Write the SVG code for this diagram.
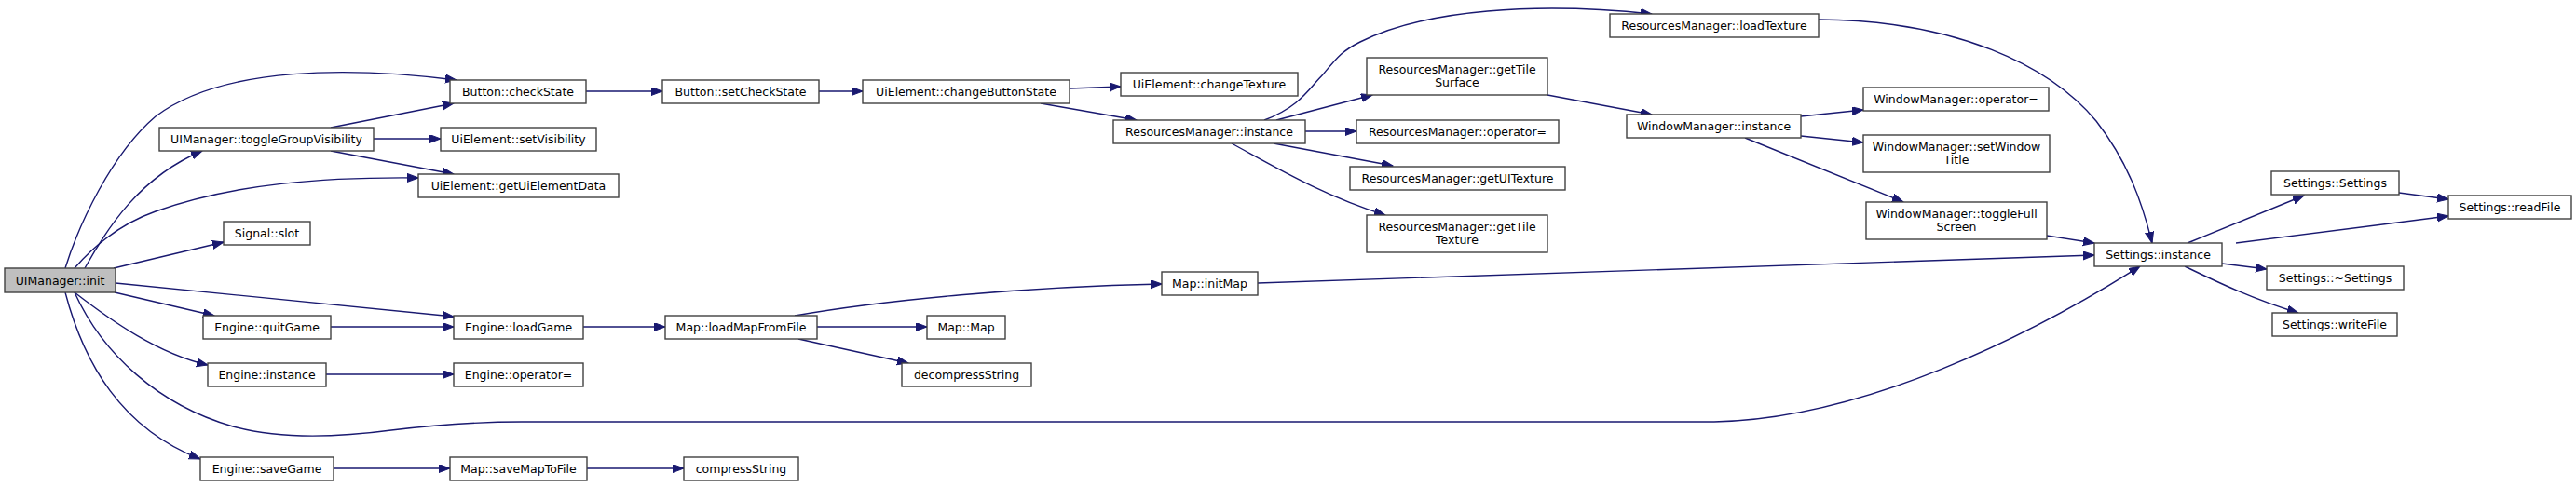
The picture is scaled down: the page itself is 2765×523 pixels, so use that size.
<svg xmlns="http://www.w3.org/2000/svg" width="2765" height="523" viewBox="0 0 2765 523">
<style>
.n rect{fill:#fff;stroke:#404040;stroke-width:1.4}
.n.root rect{fill:#bfbfbf}
.n text{font-family:"DejaVu Sans",sans-serif;font-size:12.5px;fill:#000;text-anchor:middle}
.e path{fill:none;stroke:#191970;stroke-width:1.4;marker-end:url(#ah)}
</style>
<defs>
<marker id="ah" markerUnits="userSpaceOnUse" markerWidth="13" markerHeight="10" refX="12" refY="4.5" orient="auto">
<path d="M0,0 L12,4.5 L0,9 z" fill="#191970" stroke="#191970" stroke-width="1"/>
</marker>
</defs>
<rect width="2765" height="523" fill="#fff"/>
<g id="connectors" class="e">
<path d="M70,288 C85,240 120,165 167,125 C240,70 380,72 490,86"/>
<path d="M355,137 L487,111"/>
<path d="M91,288 C115,245 150,190 217,162"/>
<path d="M401,149 L473,149"/>
<path d="M355,162 L487,187"/>
<path d="M80,288 C100,265 130,240 167,227 C250,197 350,190 449,191"/>
<path d="M122,288 L240,260"/>
<path d="M124,304 L487,340"/>
<path d="M123,314 L230,339"/>
<path d="M80,314 C120,345 170,380 223,392"/>
<path d="M70,314 C90,390 130,460 215,493"/>
<path d="M80,314 C110,380 170,435 250,458 C300,472 360,470 420,462 C470,456 520,453 560,453 L1840,453 C2000,450 2180,360 2297,286"/>
<path d="M355,351 L487,351"/>
<path d="M350,402 L487,402"/>
<path d="M358,503 L483,503"/>
<path d="M630,503 L734,503"/>
<path d="M626,351 L714,351"/>
<path d="M853,339 C950,322 1100,308 1247,305"/>
<path d="M877,351 L995,351"/>
<path d="M857,364 L975,390"/>
<path d="M1350,304 L2248,274"/>
<path d="M629,98 L711,98"/>
<path d="M879,98 L926,98"/>
<path d="M1148,95 L1203,93"/>
<path d="M1117,111 L1220,129"/>
<path d="M1357,129 C1395,115 1405,95 1420,80 C1435,62 1440,55 1460,45 C1530,10 1650,2 1773,15"/>
<path d="M1370,129 L1473,102"/>
<path d="M1401,141 L1456,141"/>
<path d="M1367,154 L1495,178"/>
<path d="M1322,154 C1370,180 1420,210 1487,231"/>
<path d="M1661,102 L1773,123"/>
<path d="M1933,125 L2000,118"/>
<path d="M1933,146 L2000,153"/>
<path d="M1873,148 L2043,217"/>
<path d="M2197,253 L2248,261"/>
<path d="M1952,21 C2100,22 2200,70 2250,130 C2285,175 2300,220 2310,261"/>
<path d="M2348,261 L2473,210"/>
<path d="M2400,261 L2628,232"/>
<path d="M2575,207 L2628,214"/>
<path d="M2385,283 L2433,289"/>
<path d="M2345,286 C2380,303 2420,322 2467,336"/>
</g>
<g id="n_init" class="n root"><rect x="5" y="288" width="119" height="26"/><text x="64.5" y="305.5">UIManager::init</text></g>
<g id="n_toggleGroupVisibility" class="n"><rect x="171" y="137" width="230" height="25"/><text x="286" y="154">UIManager::toggleGroupVisibility</text></g>
<g id="n_slot" class="n"><rect x="240" y="238" width="93" height="25"/><text x="286.5" y="255">Signal::slot</text></g>
<g id="n_checkState" class="n"><rect x="483" y="86" width="146" height="25"/><text x="556" y="103">Button::checkState</text></g>
<g id="n_setVisibility" class="n"><rect x="473" y="137" width="167" height="25"/><text x="556.5" y="154">UiElement::setVisibility</text></g>
<g id="n_getUiElementData" class="n"><rect x="449" y="187" width="215" height="25"/><text x="556.5" y="204">UiElement::getUiElementData</text></g>
<g id="n_quitGame" class="n"><rect x="218" y="339" width="137" height="25"/><text x="286.5" y="356">Engine::quitGame</text></g>
<g id="n_engineInstance" class="n"><rect x="223" y="390" width="127" height="25"/><text x="286.5" y="407">Engine::instance</text></g>
<g id="n_saveGame" class="n"><rect x="215" y="491" width="143" height="25"/><text x="286.5" y="508">Engine::saveGame</text></g>
<g id="n_loadGame" class="n"><rect x="487" y="339" width="139" height="25"/><text x="556.5" y="356">Engine::loadGame</text></g>
<g id="n_engineOperator" class="n"><rect x="487" y="390" width="139" height="25"/><text x="556.5" y="407">Engine::operator=</text></g>
<g id="n_saveMapToFile" class="n"><rect x="483" y="491" width="147" height="25"/><text x="556.5" y="508">Map::saveMapToFile</text></g>
<g id="n_setCheckState" class="n"><rect x="711" y="86" width="168" height="25"/><text x="795" y="103">Button::setCheckState</text></g>
<g id="n_loadMapFromFile" class="n"><rect x="714" y="339" width="163" height="25"/><text x="795.5" y="356">Map::loadMapFromFile</text></g>
<g id="n_compressString" class="n"><rect x="734" y="491" width="123" height="25"/><text x="795.5" y="508">compressString</text></g>
<g id="n_changeButtonState" class="n"><rect x="926" y="86" width="222" height="25"/><text x="1037" y="103">UiElement::changeButtonState</text></g>
<g id="n_mapMap" class="n"><rect x="995" y="339" width="84" height="25"/><text x="1037" y="356">Map::Map</text></g>
<g id="n_decompressString" class="n"><rect x="968" y="390" width="139" height="25"/><text x="1037.5" y="407">decompressString</text></g>
<g id="n_changeTexture" class="n"><rect x="1203" y="78" width="190" height="25"/><text x="1298" y="95">UiElement::changeTexture</text></g>
<g id="n_rmInstance" class="n"><rect x="1195" y="129" width="206" height="25"/><text x="1298" y="146">ResourcesManager::instance</text></g>
<g id="n_initMap" class="n"><rect x="1247" y="292" width="103" height="25"/><text x="1298.5" y="309">Map::initMap</text></g>
<g id="n_loadTexture" class="n"><rect x="1728" y="15" width="224" height="25"/><text x="1840" y="32">ResourcesManager::loadTexture</text></g>
<g id="n_getTileSurface" class="n"><rect x="1467" y="62" width="194" height="40"/><text x="1564" y="79">ResourcesManager::getTile</text><text x="1564" y="93">Surface</text></g>
<g id="n_rmOperator" class="n"><rect x="1456" y="129" width="217" height="25"/><text x="1564.5" y="146">ResourcesManager::operator=</text></g>
<g id="n_getUITexture" class="n"><rect x="1449" y="179" width="231" height="25"/><text x="1564.5" y="196">ResourcesManager::getUITexture</text></g>
<g id="n_getTileTexture" class="n"><rect x="1467" y="231" width="194" height="40"/><text x="1564" y="248">ResourcesManager::getTile</text><text x="1564" y="262">Texture</text></g>
<g id="n_wmInstance" class="n"><rect x="1746" y="123" width="187" height="25"/><text x="1839.5" y="140">WindowManager::instance</text></g>
<g id="n_wmOperator" class="n"><rect x="2000" y="94" width="199" height="25"/><text x="2099.5" y="111">WindowManager::operator=</text></g>
<g id="n_setWindowTitle" class="n"><rect x="2000" y="145" width="200" height="40"/><text x="2100" y="162">WindowManager::setWindow</text><text x="2100" y="176">Title</text></g>
<g id="n_toggleFullScreen" class="n"><rect x="2003" y="217" width="194" height="40"/><text x="2100" y="234">WindowManager::toggleFull</text><text x="2100" y="248">Screen</text></g>
<g id="n_settingsInstance" class="n"><rect x="2248" y="261" width="137" height="25"/><text x="2316.5" y="278">Settings::instance</text></g>
<g id="n_settingsCtor" class="n"><rect x="2438" y="184" width="137" height="25"/><text x="2506.5" y="201">Settings::Settings</text></g>
<g id="n_readFile" class="n"><rect x="2628" y="210" width="132" height="25"/><text x="2694" y="227">Settings::readFile</text></g>
<g id="n_settingsDtor" class="n"><rect x="2433" y="286" width="147" height="25"/><text x="2506.5" y="303">Settings::~Settings</text></g>
<g id="n_writeFile" class="n"><rect x="2439" y="336" width="134" height="25"/><text x="2506" y="353">Settings::writeFile</text></g>
</svg>
